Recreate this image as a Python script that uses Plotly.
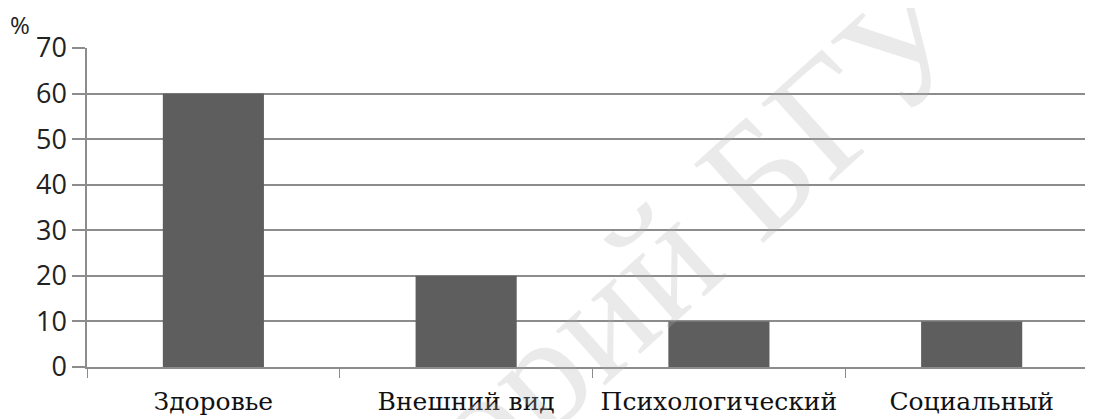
import plotly.graph_objects as go

categories = ["Здоровье", "Внешний вид", "Психологический", "Социальный"]
values = [60, 20, 10, 10]
y_ticks = [0, 10, 20, 30, 40, 50, 60, 70]
y_unit = "%"
watermark = "Репозиторий БГУ"

W, H = 1093, 419
OFF = 8  # default page body margin
# desired plot area in page pixels
PL, PR, PT, PB = 87, 1093, 48, 367
ML, MT = PL - OFF, PT - OFF
MR = W - (PR - OFF)
MB = H - (PB - OFF)
PW, PH = PR - PL, PB - PT

def px_to_paper(x, y):
    return (x - PL) / PW, (PB - y) / PH

fig = go.Figure()
fig.add_trace(go.Bar(
    x=categories, y=values,
    marker=dict(color="#5e5e5e", line=dict(width=0)),
    width=0.4,
))

grid = "#8c8c8c"
fig.update_layout(
    width=W, height=H,
    margin=dict(l=ML, r=MR, t=MT, b=MB, autoexpand=False),
    plot_bgcolor="white", paper_bgcolor="white",
    showlegend=False,
    xaxis=dict(
        range=[-0.5, 3.48],
        tickson="boundaries",
        ticks="outside", ticklen=9, tickwidth=1.2, tickcolor=grid,
        showgrid=False, showline=True, linecolor=grid, linewidth=1.5,
        tickfont=dict(family="DejaVu Serif", size=25, color="#111"),
        tickangle=0,
        ticklabelstandoff=11,
        fixedrange=True,
    ),
    yaxis=dict(
        range=[0, 70],
        tickvals=y_ticks,
        ticks="outside", ticklen=13, tickwidth=1.5, tickcolor=grid,
        showgrid=True, gridcolor=grid, gridwidth=1.5,
        showline=True, linecolor=grid, linewidth=1.5,
        zeroline=False,
        tickfont=dict(family="Open Sans", size=27, color="#222"),
        fixedrange=True,
    ),
)

px, py = px_to_paper(20, 25)
fig.add_annotation(text=y_unit, x=px, y=py, xref="paper", yref="paper",
                   showarrow=False, xanchor="center", yanchor="middle",
                   font=dict(family="Open Sans", size=24, color="#222"))

wx, wy = px_to_paper(496, 411)
fig.add_annotation(text=watermark, x=wx, y=wy, xref="paper", yref="paper",
                   showarrow=False, xanchor="center", yanchor="middle",
                   textangle=-42,
                   font=dict(family="Liberation Serif", size=160,
                             color="rgba(170,170,170,0.25)"))

fig.write_html("out.html")
